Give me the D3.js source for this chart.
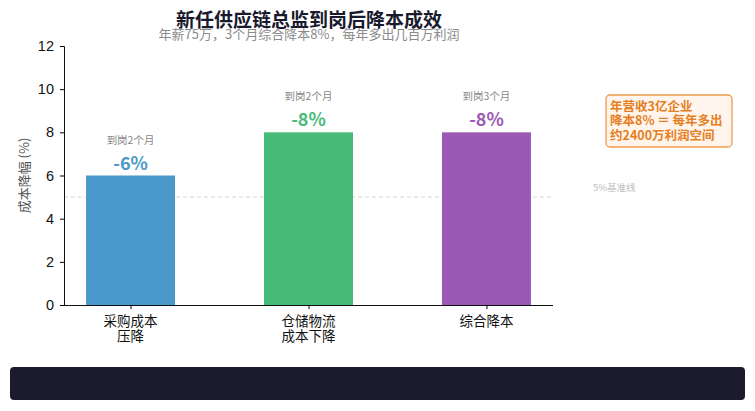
<!DOCTYPE html>
<html>
<head>
<meta charset="utf-8">
<script src="https://cdn.jsdelivr.net/npm/d3@7"></script>
<style>
  body { margin: 0; background: #fff; }
  svg { display: block; font-family: "Noto Sans CJK SC", "Noto Sans", sans-serif; }
</style>
</head>
<body>
<div id="chart"></div>
<script>
// chart data
const categories = ["采购成本\n压降", "仓储物流\n成本下降", "综合降本"];
const values = [6, 8, 8];
const valueLabels = ["-6%", "-8%", "-8%"];
const timeLabels = ["到岗2个月", "到岗2个月", "到岗3个月"];
const barColors = ["#4a98c9", "#48bb78", "#9b59b6"];
const yTicks = [0, 2, 4, 6, 8, 10, 12];
const baseline = 5;

const width = 755, height = 411;
const svg = d3.select("#chart").append("svg")
  .attr("width", width)
  .attr("height", height);

// plot area
const plotLeft = 64, plotRight = 553, plotTop = 46, plotBottom = 305;

let x = d3.scaleLinear()
  .domain([-0.374, 2.374])
  .range([plotLeft, plotRight]);
let y = d3.scaleLinear()
  .domain([0, 12])
  .range([plotBottom, plotTop]);
let barW = x(0.5) - x(0);

// title
svg.append("text")
  .attr("x", 309).attr("y", 27)
  .attr("text-anchor", "middle")
  .attr("font-size", 19).attr("font-weight", "bold")
  .attr("fill", "#1a1a2e")
  .text("新任供应链总监到岗后降本成效");
svg.append("text")
  .attr("x", 309).attr("y", 39)
  .attr("text-anchor", "middle")
  .attr("font-size", 13)
  .attr("fill", "#8a8a8a")
  .text("年薪75万，3个月综合降本8%，每年多出几百万利润");

// baseline
svg.append("line")
  .attr("x1", plotLeft).attr("x2", plotRight)
  .attr("y1", y(baseline)).attr("y2", y(baseline))
  .attr("stroke", "#d8d8d8").attr("stroke-dasharray", "4,3");
svg.append("text")
  .attr("x", 593).attr("y", y(baseline) - 6)
  .attr("font-size", 9.5).attr("fill", "#bdbdbd")
  .text("5%基准线");

// bars
const bars = svg.append("g").selectAll("g")
  .data(values)
  .join("g");

bars.append("rect")
  .attr("x", (d, i) => x(i) - barW / 2)
  .attr("y", d => y(d))
  .attr("width", barW)
  .attr("height", d => y(0) - y(d))
  .attr("fill", (d, i) => barColors[i]);

bars.append("text")
  .attr("x", (d, i) => x(i))
  .attr("y", d => y(d) - 6)
  .attr("text-anchor", "middle")
  .attr("font-size", 18).attr("font-weight", "bold")
  .attr("fill", (d, i) => barColors[i])
  .text((d, i) => valueLabels[i]);

bars.append("text")
  .attr("x", (d, i) => x(i))
  .attr("y", d => y(d) - 32)
  .attr("text-anchor", "middle")
  .attr("font-size", 10.5)
  .attr("fill", "#888")
  .text((d, i) => timeLabels[i]);

// axes
const yAxis = svg.append("g")
  .attr("transform", `translate(${plotLeft},0)`)
  .call(d3.axisLeft(y).tickValues(yTicks).tickSize(4).tickPadding(6));
yAxis.selectAll("text").attr("font-size", 14.5).attr("fill", "#111")
  .attr("font-family", "'Liberation Sans', Arial, sans-serif");
yAxis.select(".domain").attr("stroke", "#111");

const xAxis = svg.append("g")
  .attr("transform", `translate(0,${plotBottom})`)
  .call(d3.axisBottom(x).tickValues([0, 1, 2]).tickSize(4).tickFormat(""));
xAxis.select(".domain").attr("stroke", "#111").attr("d", `M${plotLeft},0.5H${plotRight}`);

const catText = svg.append("g").selectAll("text")
  .data(categories)
  .join("text")
  .attr("x", (d, i) => x(i))
  .attr("y", plotBottom + 21)
  .attr("text-anchor", "middle")
  .attr("font-size", 13.5).attr("fill", "#111");
catText.selectAll("tspan")
  .data(d => d.split("\n"))
  .join("tspan")
  .attr("x", function() { return this.parentNode.getAttribute("x"); })
  .attr("dy", (d, i) => i === 0 ? 0 : 15)
  .text(d => d);

svg.append("text")
  .attr("transform", `translate(29,${(plotTop + plotBottom) / 2}) rotate(-90)`)
  .attr("text-anchor", "middle")
  .attr("font-size", 13).attr("fill", "#555")
  .text("成本降幅 (%)");

// annotation box
const note = ["年营收3亿企业", "降本8% ＝ 每年多出", "约2400万利润空间"];
svg.append("rect")
  .attr("x", 606).attr("y", 95)
  .attr("width", 126).attr("height", 52)
  .attr("rx", 4)
  .attr("fill", "#fff5ec").attr("stroke", "#ee9a4d").attr("stroke-width", 1.3);
svg.append("g").selectAll("text")
  .data(note)
  .join("text")
  .attr("x", 610)
  .attr("y", (d, i) => 110.5 + i * 14.5)
  .attr("font-size", 12.5).attr("font-weight", "bold")
  .attr("fill", "#e67e22")
  .text(d => d);

// footer bar
svg.append("rect")
  .attr("x", 10).attr("y", 367)
  .attr("width", 735).attr("height", 33)
  .attr("rx", 4)
  .attr("fill", "#1c1b2e");
</script>
</body>
</html>
